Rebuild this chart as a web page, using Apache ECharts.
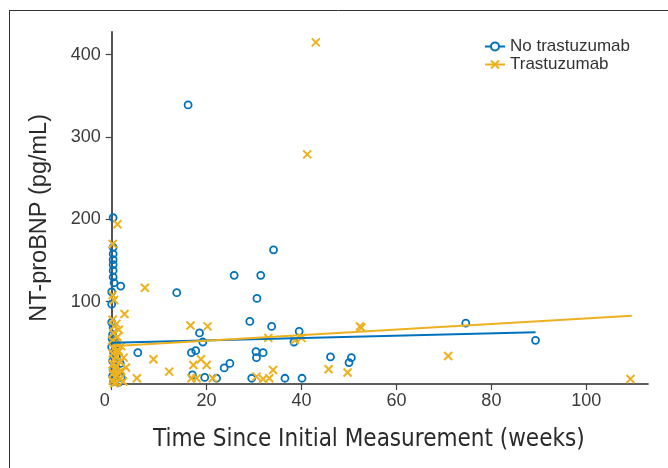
<!DOCTYPE html>
<html>
<head>
<meta charset="utf-8">
<script src="https://cdn.jsdelivr.net/npm/echarts@6/dist/echarts.min.js"></script>
<style>html,body{margin:0;padding:0;background:#fff}#c{width:668px;height:468px}</style>
</head>
<body>
<div id="c"></div>
<script>
// ---- data: [weeks, NT-proBNP pg/mL] ----
var noTrastuzumab = [
  [0.3,202],[0.3,166],[0.3,158],[0.3,151],[0.3,145],[0.3,138],[0.3,130],[0.5,123],[1.9,119],[0,112],[0,97],
  [0,75],[0.3,68],[0.2,60],[0.5,52],[0,45],[0.4,38],[1,33],[0.2,28],[0.8,22],[0.3,18],[1.2,14],[0.2,10],
  [0.9,6],[0.4,3],[1.5,2],[2,8],[0.1,55],[1.8,25],[1,48],
  [5.5,38],[13.7,111],[16.1,339],[16.8,38],[17.7,40.5],[18.5,62],[19.2,51],[17,11],[19.6,8],[22.1,7],
  [23.7,19.5],[24.9,25],[25.8,132],[29.1,76],[29.5,7],[30.6,104],[30.4,39.3],[31.9,38],[30.5,32],
  [31.4,132],[33.7,70],[34.1,163],[36.5,7],[38.4,51],[39.5,64],[40.1,7],[46.1,33],[50.5,32],[50,26],
  [74.6,74],[89.3,53]
];
var trastuzumab = [
  [1.2,194],[0.2,170],[0.2,108],[0.5,102],[2.7,85],
  [0.2,78],[1,73],[0.5,70],[1.5,66],[0.3,62],[1.2,57],[0.1,53],[0.8,50],[2,46],[0.4,43],[1.5,40],[0.2,37],
  [1,34],[2.5,32],[0.5,30],[1.8,27],[0.2,24],[1,21],[0.6,18],[2,16],[0.3,13],[1.2,11],[0.7,8],[1.8,6],
  [0.2,4],[1,2],[2.4,3],[0.5,1],[1.5,14],[3,20],[1.4,39],
  [5.3,7],[7,117],[8.8,30],[12.1,15],[16.6,71],[20.2,70],[17.2,23],[18.8,30],[20,23],[16.8,7],[17.9,7],
  [21.3,7],[30.5,9],[31.9,6],[33.2,7],[34,17],[33,56],[38.6,53.5],[40,56],[41.2,279],[43,415],
  [45.7,18],[49.7,14],[52.3,70],[52.6,68.5],[70.9,34],[109.3,6]
];
var fitNoTrastuzumab = [[0,50],[89.3,63]];
var fitTrastuzumab = [[0,46],[109.6,83]];
var xTicks = {min:0, max:113, interval:20};
var yTicks = {min:0, max:428, interval:100};

var BLUE = '#0072BD', YEL = '#EDB120';
var tickFont = {fontFamily:'Liberation Sans, Arial, sans-serif', fontSize:18, color:'#3a3a3a'};
var chart = echarts.init(document.getElementById('c'));
chart.setOption({
  animation:false,
  grid:{left:111.7, right:20, top:31.7, bottom:84},
  xAxis:{type:'value', min:xTicks.min, max:xTicks.max, interval:xTicks.interval,
    name:'Time Since Initial Measurement (weeks)', nameLocation:'middle', nameGap:44,
    nameTextStyle:{fontFamily:"'Liberation Sans Narrow', 'Arial Narrow', 'DejaVu Sans Condensed', sans-serif", fontSize:24, color:'#2a2a2a', padding:[0,22,0,0]},
    splitLine:{show:false},
    axisLine:{lineStyle:{color:'#2a2a2a', width:1.6}},
    axisTick:{inside:false, length:6, lineStyle:{color:'#444', width:1.2}},
    axisLabel:Object.assign({margin:8, showMaxLabel:false,
      formatter:function(v){return v===0?'{z|0}':String(v);},
      rich:{z:Object.assign({padding:[0,14,0,0]}, tickFont)}}, tickFont)
  },
  yAxis:{type:'value', min:yTicks.min, max:yTicks.max, interval:yTicks.interval,
    name:'NT-proBNP (pg/mL)', nameLocation:'middle', nameGap:60,
    nameTextStyle:{fontFamily:'Liberation Sans, Arial, sans-serif', fontSize:23.5, color:'#2a2a2a', padding:[0,20,0,0]},
    splitLine:{show:false},
    axisLine:{lineStyle:{color:'#2a2a2a', width:1.6}},
    axisTick:{inside:false, length:6, lineStyle:{color:'#444', width:1.2}},
    axisLabel:Object.assign({margin:11, showMinLabel:false, showMaxLabel:false}, tickFont)
  },
  legend:{orient:'vertical', left:479, top:33, itemGap:1, itemWidth:20, itemHeight:8,
    textStyle:{fontFamily:'Liberation Sans, Arial, sans-serif', fontSize:17, color:'#333'},
    data:[
      {name:'No trastuzumab', icon:'path://M0,5 L6,5 M14,5 L20,5 M6,5 A4,4 0 1,1 14,5 A4,4 0 1,1 6,5',
        itemStyle:{color:'rgba(0,0,0,0)', borderColor:BLUE, borderWidth:2}},
      {name:'Trastuzumab', icon:'path://M0,5 L20,5 M6,1 L14,9 M6,9 L14,1',
        itemStyle:{color:'rgba(0,0,0,0)', borderColor:YEL, borderWidth:2}}
    ]},
  graphic:[
    {type:'line', shape:{x1:9, y1:10.5, x2:668, y2:10.5}, style:{stroke:'#333', lineWidth:1}},
    {type:'line', shape:{x1:9.5, y1:10, x2:9.5, y2:468}, style:{stroke:'#333', lineWidth:1}}
  ],
  series:[
    {name:'No trastuzumab', type:'scatter', data:noTrastuzumab, symbol:'circle', symbolSize:7,
      itemStyle:{color:'rgba(0,0,0,0)', borderColor:BLUE, borderWidth:1.8, opacity:1}},
    {name:'Trastuzumab', type:'scatter', data:trastuzumab, symbol:'path://M0,0 L10,10 M0,10 L10,0', symbolSize:8,
      itemStyle:{color:'rgba(0,0,0,0)', borderColor:YEL, borderWidth:2, opacity:1}},
    {name:'fitA', type:'line', data:fitNoTrastuzumab, showSymbol:false, symbol:'none',
      lineStyle:{color:BLUE, width:2}, z:3},
    {name:'fitB', type:'line', data:fitTrastuzumab, showSymbol:false, symbol:'none',
      lineStyle:{color:YEL, width:2}, z:3}
  ]
});
</script>
</body>
</html>
